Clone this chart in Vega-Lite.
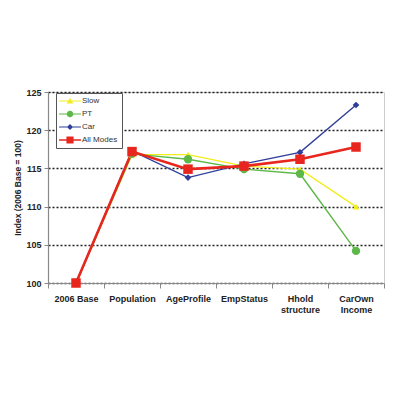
{
  "$schema": "https://vega.github.io/schema/vega-lite/v6.json",
  "width": 336,
  "height": 191,
  "autosize": {"type": "none"},
  "padding": {"left": 48, "top": 92, "right": 15, "bottom": 116},
  "background": "white",
  "config": {
    "font": "Liberation Sans",
    "view": {"stroke": "#cccccc", "strokeWidth": 1},
    "legend": {
      "title": null,
      "orient": "none",
      "legendX": 8,
      "legendY": 1,
      "fillColor": "white",
      "strokeColor": "#555",
      "padding": 4,
      "rowPadding": 5,
      "labelFontSize": 8,
      "labelColor": "#333",
      "labelOffset": 8,
      "symbolOffset": 6,
      "symbolSize": 30,
      "symbolOpacity": 1,
      "symbolStrokeWidth": 0
    }
  },
  "data": {
    "values": [
      {"series": "Slow", "category": "2006 Base", "value": 100},
      {"series": "Slow", "category": "Population", "value": 116.8},
      {"series": "Slow", "category": "AgeProfile", "value": 116.8},
      {"series": "Slow", "category": "EmpStatus", "value": 115.3},
      {"series": "Slow", "category": "Hhold structure", "value": 114.9},
      {"series": "Slow", "category": "CarOwn Income", "value": 110.0},
      {"series": "PT", "category": "2006 Base", "value": 100},
      {"series": "PT", "category": "Population", "value": 116.9},
      {"series": "PT", "category": "AgeProfile", "value": 116.2},
      {"series": "PT", "category": "EmpStatus", "value": 114.9},
      {"series": "PT", "category": "Hhold structure", "value": 114.3},
      {"series": "PT", "category": "CarOwn Income", "value": 104.2},
      {"series": "Car", "category": "2006 Base", "value": 100},
      {"series": "Car", "category": "Population", "value": 117.3},
      {"series": "Car", "category": "AgeProfile", "value": 113.8},
      {"series": "Car", "category": "EmpStatus", "value": 115.6},
      {"series": "Car", "category": "Hhold structure", "value": 117.1},
      {"series": "Car", "category": "CarOwn Income", "value": 123.3},
      {"series": "All Modes", "category": "2006 Base", "value": 100},
      {"series": "All Modes", "category": "Population", "value": 117.2},
      {"series": "All Modes", "category": "AgeProfile", "value": 114.9},
      {"series": "All Modes", "category": "EmpStatus", "value": 115.3},
      {"series": "All Modes", "category": "Hhold structure", "value": 116.2},
      {"series": "All Modes", "category": "CarOwn Income", "value": 117.8}
    ]
  },
  "encoding": {
    "x": {
      "field": "category",
      "type": "nominal",
      "sort": ["2006 Base", "Population", "AgeProfile", "EmpStatus", "Hhold structure", "CarOwn Income"],
      "scale": {"paddingInner": 0, "paddingOuter": 0},
      "axis": {
        "title": null,
        "labelAngle": 0,
        "labelFontWeight": "bold",
        "labelFontSize": 9,
        "labelColor": "#222",
        "labelPadding": 6,
        "labelBaseline": "top",
        "labelLineHeight": 11,
        "labelExpr": "datum.label == 'Hhold structure' ? ['Hhold','structure'] : datum.label == 'CarOwn Income' ? ['CarOwn','Income'] : datum.label",
        "tickBand": "extent",
        "tickSize": 5,
        "tickColor": "#888",
        "domainColor": "#888",
        "domainWidth": 1.2,
        "grid": false
      }
    },
    "y": {
      "field": "value",
      "type": "quantitative",
      "scale": {"domain": [100, 125], "nice": false, "zero": false},
      "axis": {
        "title": "Index (2006 Base = 100)",
        "titleFontSize": 8.5,
        "titleFontWeight": "bold",
        "titleColor": "#222",
        "titlePadding": 3,
        "values": [100, 105, 110, 115, 120, 125],
        "labelFontWeight": "bold",
        "labelFontSize": 9,
        "labelColor": "#222",
        "labelPadding": 3,
        "tickSize": 4,
        "tickColor": "#888",
        "domainColor": "#888",
        "domainWidth": 1.2,
        "grid": true,
        "gridColor": "#222",
        "gridDash": [2, 2],
        "gridWidth": 1.3
      }
    },
    "color": {
      "field": "series",
      "type": "nominal",
      "scale": {"domain": ["Slow", "PT", "Car", "All Modes"], "range": ["#f2ee1c", "#5cb848", "#2f3e9a", "#e8261e"]}
    }
  },
  "layer": [
    {
      "mark": {"type": "line", "strokeWidth": 1.4},
      "transform": [{"filter": "datum.series != 'All Modes'"}]
    },
    {
      "mark": {"type": "line", "strokeWidth": 2.6},
      "transform": [{"filter": "datum.series == 'All Modes'"}]
    },
    {
      "mark": {"type": "point", "filled": true, "opacity": 1, "shape": "triangle-up", "size": 45},
      "transform": [{"filter": "datum.series == 'Slow'"}]
    },
    {
      "mark": {"type": "point", "filled": true, "opacity": 1, "shape": "circle", "size": 70},
      "transform": [{"filter": "datum.series == 'PT'"}]
    },
    {
      "mark": {"type": "point", "filled": true, "opacity": 1, "shape": "diamond", "size": 45},
      "transform": [{"filter": "datum.series == 'Car'"}]
    },
    {
      "mark": {"type": "point", "filled": true, "opacity": 1, "shape": "square", "size": 90},
      "transform": [{"filter": "datum.series == 'All Modes'"}]
    },
    {
      "mark": {"type": "point", "filled": true, "opacity": 0},
      "encoding": {
        "shape": {
          "field": "series",
          "type": "nominal",
          "scale": {"domain": ["Slow", "PT", "Car", "All Modes"], "range": [
            "M-4,-0.15H4V0.15H-4Z M0,-1.2L1.2,0.9L-1.2,0.9Z",
            "M-4,-0.15H4V0.15H-4Z M-1.2,0A1.2,1.2 0 1,1 1.2,0A1.2,1.2 0 1,1 -1.2,0Z",
            "M-4,-0.15H4V0.15H-4Z M0,-1.1L1.1,0L0,1.1L-1.1,0Z",
            "M-4,-0.3H4V0.3H-4Z M-1.3,-1.3H1.3V1.3H-1.3Z"
          ]}
        }
      }
    }
  ]
}
